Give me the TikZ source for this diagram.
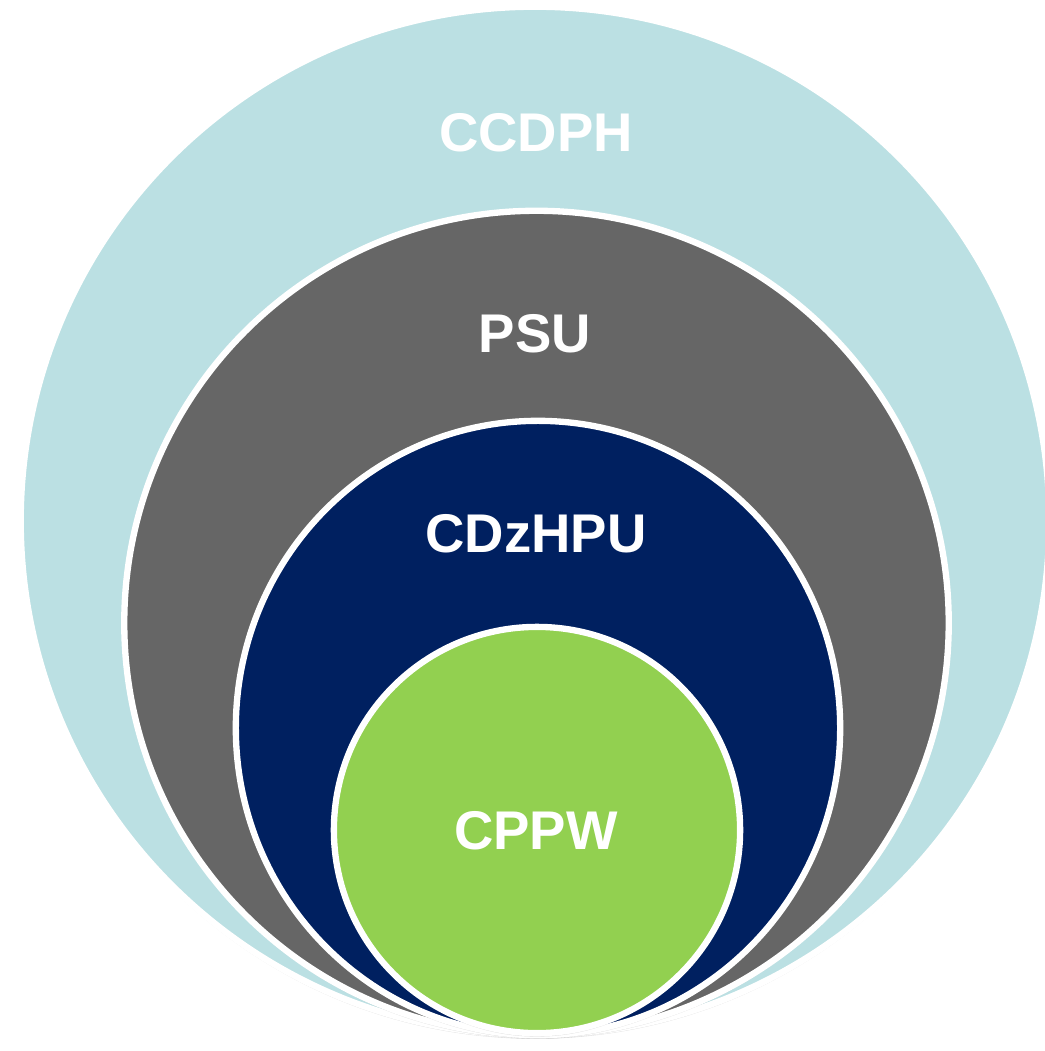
\documentclass[tikz,border=0pt]{standalone}
\usepackage{fontspec}
\setmainfont{Liberation Sans}
\usepackage{tikz}
\usetikzlibrary{shadows}
\definecolor{ccdphblue}{RGB}{187,224,227}
\definecolor{psugray}{RGB}{102,102,102}
\definecolor{hpunavy}{RGB}{0,32,96}
\definecolor{cppwgreen}{RGB}{146,208,80}
\tikzset{
	ring/.style={
		draw=white,
		line width=1.8pt,
		drop shadow={shadow xshift=0pt, shadow yshift=-1pt, opacity=0.25}
	},
	unit/.style={
		text=white,
		inner sep=0pt,
		font=\fontsize{15.5}{18}\selectfont\bfseries
	}
}

\begin{document}
\begin{tikzpicture}[x=0.01cm, y=-0.01cm]
	\useasboundingbox (0,0) rectangle (1045,1051);
	
	\path[ring, fill=ccdphblue] (535,521) circle[radius=5.14cm];
	\path[ring, fill=psugray] (536.5,623) circle[radius=4.12cm];
	\path[ring, fill=hpunavy] (538,728) circle[x radius=3.02cm, y radius=3.07cm];
	\path[ring, fill=cppwgreen] (537,830) circle[radius=2.03cm];
	
	\node(ccdph) at (536,133) [unit] {CCDPH};
	\node(psu) at (535,334) [unit] {PSU};
	\node(cdzhpu) at (536,534) [unit] {CDzHPU};
	\node(cppw) at (536,831) [unit] {CPPW};
	
\end{tikzpicture}
\end{document}
